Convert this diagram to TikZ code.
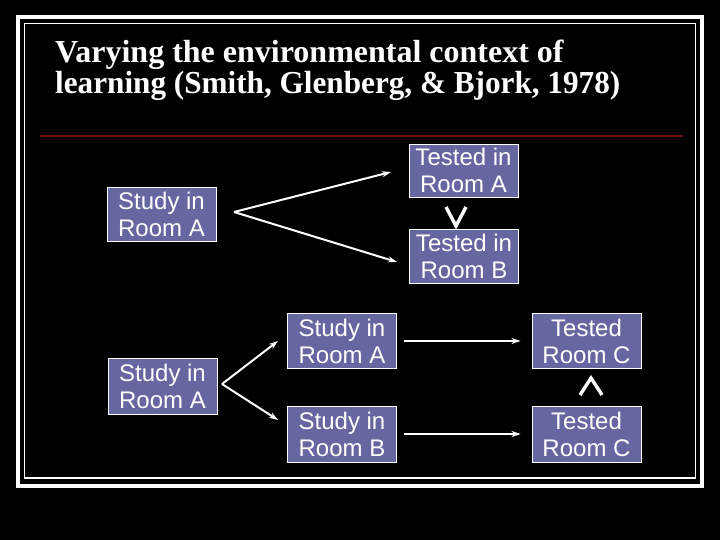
\documentclass[tikz,border=0pt]{standalone}
\usepackage{fontspec}
\setmainfont{Liberation Serif}
\newfontfamily\boxfont{Liberation Sans}
\usetikzlibrary{arrows.meta}
\definecolor{boxblue}{RGB}{102,102,160}
\definecolor{rule}{RGB}{110,16,16}
\begin{document}
\begin{tikzpicture}[x=1pt,y=-1pt,
  roombox/.style={draw=white,line width=0.9pt,fill=boxblue,text=white,
    font=\boxfont\fontsize{24}{27}\selectfont,align=center,inner sep=0pt,
    minimum width=109pt,minimum height=55pt},
  arr/.style={draw=white,line width=2pt,-{Stealth[length=9pt,width=6pt]}},
  chev/.style={draw=white,line width=3.4pt,line join=miter},
  title/.style={text=white,font=\fontsize{32}{31}\selectfont\bfseries,align=left,anchor=north west,inner sep=0pt}]
\useasboundingbox (0,0) rectangle (720,540);
\fill[black] (0,0) rectangle (720,540);
% frames
\draw[white,line width=4pt] (18,17) rectangle (702,485.5);
\draw[white,line width=1.2pt] (24.5,23.5) rectangle (695.5,478);
% title
\node[title] (ttl) at (55,40) {Varying the environmental context of\\\scalebox{0.975}[1]{learning (Smith, Glenberg, \& Bjork, 1978)}};
% red rule
\coordinate (rl) at (40,136);
\coordinate (rr) at (683,136);
\draw[rule,line width=1.2pt] (rl) -- (rr);
% boxes, top
\node[roombox,minimum height=53pt] (tA) at (463.5,170.5) {Tested in\\Room A};
\node[roombox,minimum height=54pt] (tB) at (464,256) {Tested in\\Room B};
\node[roombox,minimum height=54pt] (s1) at (161.5,214) {Study in\\Room A};
% boxes, bottom
\node[roombox,minimum height=56pt] (s2) at (162.5,386) {Study in\\Room A};
\node[roombox] (sA) at (342,341) {Study in\\Room A};
\node[roombox,minimum height=56pt] (sB) at (342,434) {Study in\\Room B};
\node[roombox] (cA) at (586.5,341) {Tested\\Room C};
\node[roombox,minimum height=56pt] (cB) at (586.5,434) {Tested\\Room C};
% diverging arrows, top
\coordinate (v1) at (234,212);
\coordinate (p1) at (391,172);
\coordinate (p2) at (397,262);
\draw[arr] (v1) -- (p1);
\draw[arr] (v1) -- (p2);
% diverging arrows, bottom
\coordinate (v2) at (222,384);
\coordinate (q1) at (278,341);
\coordinate (q2) at (278,420);
\draw[arr] (v2) -- (q1);
\draw[arr] (v2) -- (q2);
% horizontal arrows
\draw[arr,shorten <=7pt,shorten >=11pt] (sA.east) -- (cA.west);
\draw[arr,shorten <=7pt,shorten >=11pt] (sB.east) -- (cB.west);
% comparison chevrons
\coordinate (va) at (446,207);
\coordinate (vb) at (456,226);
\coordinate (vc) at (466,207);
\draw[chev] (va) -- (vb) -- (vc);
\coordinate (la) at (580,395);
\coordinate (lb) at (591,378);
\coordinate (lc) at (602,395);
\draw[chev] (la) -- (lb) -- (lc);
\end{tikzpicture}
\end{document}
